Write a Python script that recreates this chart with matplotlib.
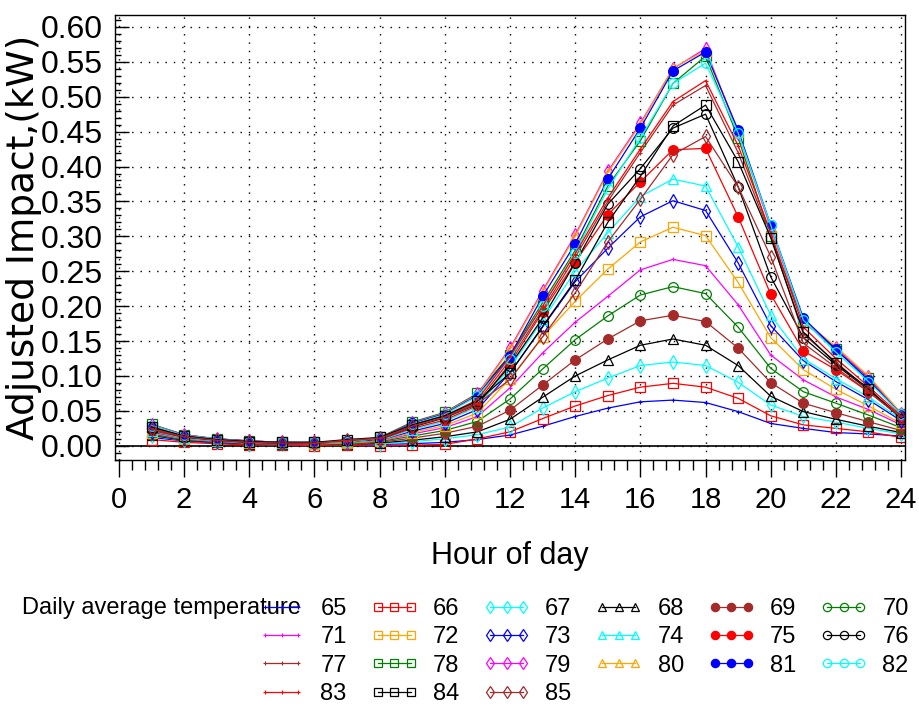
import matplotlib
matplotlib.use('Agg')
import matplotlib.pyplot as plt
from matplotlib.ticker import MultipleLocator, FormatStrFormatter

hours = list(range(1, 25))
temps = [65, 66, 67, 68, 69, 70, 71, 72, 73, 74, 75, 76, 77, 78, 79, 80, 81, 82, 83, 84, 85]

t65 = [0.012, 0.007, 0.004, 0.002, 0.002, 0.001, 0.002, 0.002, 0.003, 0.005, 0.009, 0.0155, 0.028, 0.042, 0.054, 0.063, 0.0655, 0.062, 0.049, 0.032, 0.025, 0.019, 0.017, 0.014]
t66 = [0.009, 0.005, 0.003, 0.001, 0.001, 0.000, 0.001, 0.000, 0.001, 0.002, 0.010, 0.020, 0.039, 0.057, 0.072, 0.084, 0.0895, 0.084, 0.068, 0.043, 0.030, 0.025, 0.020, 0.012]
t67 = [0.014, 0.008, 0.005, 0.003, 0.002, 0.002, 0.003, 0.003, 0.006, 0.010, 0.016, 0.027, 0.054, 0.0775, 0.097, 0.115, 0.120, 0.115, 0.091, 0.0585, 0.042, 0.034, 0.025, 0.017]
t68 = [0.015, 0.008, 0.005, 0.003, 0.003, 0.002, 0.002, 0.004, 0.008, 0.013, 0.020, 0.038, 0.0695, 0.100, 0.123, 0.144, 0.153, 0.144, 0.115, 0.071, 0.049, 0.038, 0.028, 0.019]
t69 = [0.016, 0.009, 0.006, 0.003, 0.003, 0.002, 0.001, 0.005, 0.011, 0.018, 0.028, 0.051, 0.087, 0.123, 0.153, 0.179, 0.187, 0.178, 0.140, 0.0905, 0.061, 0.0475, 0.0345, 0.022]
t70 = [0.017, 0.009, 0.006, 0.004, 0.003, 0.003, 0.003, 0.006, 0.014, 0.022, 0.035, 0.067, 0.110, 0.152, 0.186, 0.216, 0.228, 0.218, 0.170, 0.111, 0.0775, 0.061, 0.044, 0.026]
t71 = [0.018, 0.010, 0.006, 0.004, 0.003, 0.003, 0.004, 0.007, 0.017, 0.026, 0.042, 0.083, 0.133, 0.177, 0.214, 0.252, 0.267, 0.258, 0.202, 0.130, 0.0945, 0.070, 0.052, 0.030]
t72 = [0.019, 0.010, 0.007, 0.004, 0.004, 0.003, 0.004, 0.007, 0.019, 0.029, 0.047, 0.096, 0.156, 0.207, 0.253, 0.292, 0.313, 0.301, 0.234, 0.155, 0.109, 0.081, 0.057, 0.032]
t73 = [0.020, 0.011, 0.007, 0.005, 0.004, 0.004, 0.005, 0.008, 0.021, 0.032, 0.052, 0.105, 0.170, 0.235, 0.283, 0.328, 0.351, 0.337, 0.262, 0.172, 0.122, 0.092, 0.066, 0.036]
t74 = [0.021, 0.011, 0.007, 0.005, 0.004, 0.004, 0.005, 0.008, 0.023, 0.035, 0.056, 0.112, 0.180, 0.250, 0.305, 0.357, 0.382, 0.372, 0.285, 0.187, 0.125, 0.096, 0.070, 0.038]
t75 = [0.022, 0.012, 0.008, 0.005, 0.004, 0.004, 0.006, 0.009, 0.025, 0.037, 0.058, 0.118, 0.192, 0.263, 0.331, 0.378, 0.424, 0.426, 0.328, 0.217, 0.136, 0.109, 0.0775, 0.040]
t76 = [0.024, 0.013, 0.008, 0.005, 0.004, 0.004, 0.006, 0.010, 0.027, 0.040, 0.060, 0.115, 0.183, 0.262, 0.346, 0.397, 0.455, 0.475, 0.371, 0.242, 0.155, 0.116, 0.080, 0.041]
t77 = [0.025, 0.013, 0.009, 0.006, 0.005, 0.004, 0.007, 0.010, 0.028, 0.041, 0.062, 0.123, 0.195, 0.270, 0.350, 0.420, 0.488, 0.516, 0.420, 0.300, 0.160, 0.120, 0.080, 0.042]
t78 = [0.031, 0.016, 0.010, 0.007, 0.005, 0.005, 0.006, 0.012, 0.034, 0.048, 0.075, 0.130, 0.205, 0.280, 0.372, 0.437, 0.519, 0.558, 0.441, 0.300, 0.178, 0.138, 0.097, 0.046]
t79 = [0.030, 0.016, 0.010, 0.007, 0.005, 0.005, 0.006, 0.011, 0.033, 0.047, 0.074, 0.140, 0.222, 0.302, 0.393, 0.462, 0.540, 0.569, 0.448, 0.312, 0.178, 0.140, 0.098, 0.046]
t80 = [0.030, 0.015, 0.010, 0.007, 0.005, 0.005, 0.006, 0.011, 0.032, 0.047, 0.073, 0.138, 0.220, 0.300, 0.391, 0.460, 0.541, 0.566, 0.450, 0.314, 0.180, 0.142, 0.100, 0.047]
t81 = [0.029, 0.015, 0.010, 0.007, 0.005, 0.005, 0.007, 0.011, 0.032, 0.046, 0.072, 0.129, 0.214, 0.289, 0.382, 0.455, 0.537, 0.564, 0.452, 0.316, 0.183, 0.138, 0.094, 0.045]
t82 = [0.029, 0.015, 0.010, 0.006, 0.005, 0.005, 0.006, 0.011, 0.031, 0.045, 0.071, 0.125, 0.200, 0.276, 0.368, 0.441, 0.519, 0.548, 0.448, 0.316, 0.180, 0.134, 0.092, 0.045]
t83 = [0.026, 0.014, 0.009, 0.006, 0.005, 0.004, 0.007, 0.011, 0.030, 0.043, 0.066, 0.128, 0.200, 0.275, 0.355, 0.425, 0.493, 0.523, 0.430, 0.305, 0.170, 0.125, 0.085, 0.043]
t84 = [0.027, 0.014, 0.009, 0.006, 0.005, 0.005, 0.009, 0.012, 0.030, 0.043, 0.064, 0.104, 0.171, 0.237, 0.320, 0.386, 0.458, 0.488, 0.407, 0.298, 0.163, 0.118, 0.082, 0.039]
t85 = [0.024, 0.013, 0.008, 0.005, 0.004, 0.004, 0.008, 0.011, 0.028, 0.041, 0.060, 0.095, 0.156, 0.219, 0.292, 0.353, 0.417, 0.443, 0.371, 0.271, 0.147, 0.112, 0.0775, 0.041]

series = [t65, t66, t67, t68, t69, t70, t71, t72, t73, t74, t75,
          t76, t77, t78, t79, t80, t81, t82, t83, t84, t85]

# SAS-like colour and symbol sequence
colors = ['#0000ff', '#ff0000', '#00ffff', '#000000', '#a52a2a', '#008000',
          '#ff00ff', '#ffa500', '#0000ff', '#00ffff', '#ff0000', '#000000',
          '#a52a2a', '#008000', '#ff00ff', '#ffa500', '#0000ff', '#00ffff',
          '#ff0000', '#000000', '#a52a2a']
symbols = ['+', 's', 'd', '^', 'o', 'o']
filled = [True, False, False, False, True, False]

plt.rcParams['font.family'] = ['Liberation Sans', 'DejaVu Sans']

fig = plt.figure(figsize=(9.19, 7.06), dpi=100)
ax = fig.add_axes([115 / 919, 1 - 460 / 706, (905 - 115) / 919, (460 - 15) / 706])

handles = []
for i, (t, vals) in enumerate(zip(temps, series)):
    k = i % 6
    c = colors[i]
    if symbols[k] == '+':
        kw = dict(marker='+', markersize=3, markeredgewidth=0.8)
    else:
        kw = dict(marker=symbols[k], markersize=7, markeredgewidth=0.9,
                  markerfacecolor=c if filled[k] else 'none')
    h, = ax.plot(hours, vals, color=c, lw=0.9, markeredgecolor=c, **kw)
    handles.append(h)

ax.axhline(0, color='black', lw=1.2, zorder=1)

ax.set_xlim(-0.12, 24.12)
ax.set_ylim(-0.0203, 0.617)

ax.xaxis.set_major_locator(MultipleLocator(2))
ax.xaxis.set_minor_locator(MultipleLocator(0.4))
ax.yaxis.set_major_locator(MultipleLocator(0.05))
ax.yaxis.set_minor_locator(MultipleLocator(0.01))
ax.yaxis.set_major_formatter(FormatStrFormatter('%.2f'))

ax.grid(True, which='major', color='black', lw=1.0, linestyle=(0, (1, 5)))

ax.tick_params(axis='x', which='major', direction='out', length=12, width=1,
               labelsize=21, pad=7)
ax.tick_params(axis='x', which='minor', direction='out', length=7, width=1)
ax.tick_params(axis='y', which='major', direction='in', length=10, width=1,
               labelsize=23, pad=9)
ax.tick_params(axis='y', which='minor', direction='in', length=4, width=1)

for s in ax.spines.values():
    s.set_linewidth(1.0)

ax.set_xlabel('Hour of day', fontsize=22, labelpad=19)
ax.set_ylabel('Adjusted Impact,(kW)', fontsize=27, family=['DejaVu Sans'])
ax.yaxis.set_label_coords(-0.092, 0.5)

# legend: matplotlib fills columns top-down, so pass entries column by column
order = [j for c in range(6) for j in range(c, len(temps), 6)]
fig.legend([handles[j] for j in order], [str(temps[j]) for j in order],
           ncol=6, loc='upper left', bbox_to_anchor=(258 / 919, 1 - 598 / 706),
           frameon=False, fontsize=17, numpoints=3, handlelength=2.0,
           handletextpad=0.64, columnspacing=1.0, labelspacing=0.27,
           borderpad=0, borderaxespad=0, markerscale=0.85)
fig.text(22 / 919, 1 - 608 / 706, 'Daily average temperature', fontsize=17,
         ha='left', va='center')

fig.savefig('out.png', dpi=100)
